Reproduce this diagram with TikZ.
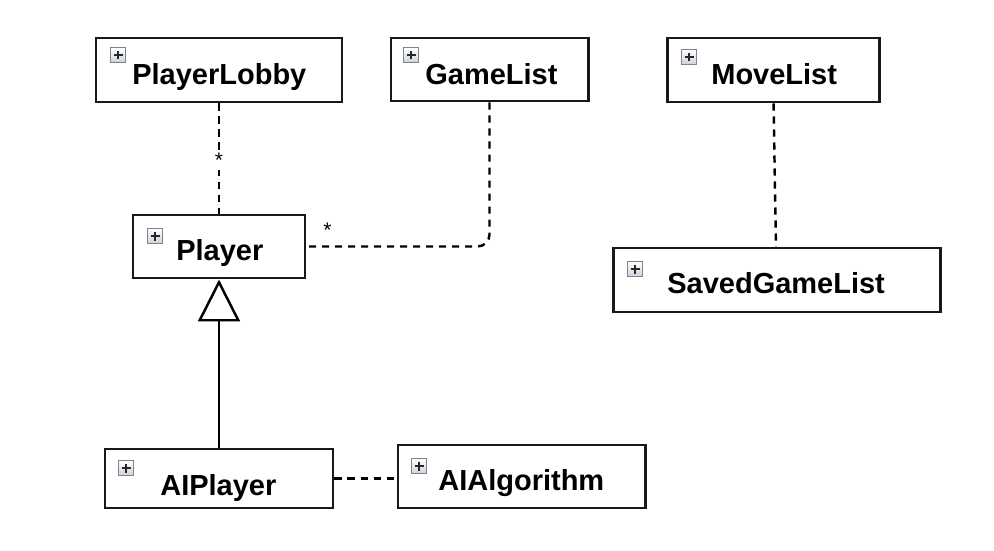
\documentclass[tikz,border=0pt]{standalone}
\usepackage{fontspec}
\setmainfont{Liberation Sans}
\usepackage{tikz}
\usetikzlibrary{arrows.meta,positioning,fit,calc}
\definecolor{iconEdge}{HTML}{7E838C}
\definecolor{iconFill}{HTML}{CDD2DA}
\tikzset{
  clsbox/.style={draw=black!90, line width=1.7pt, inner sep=0pt, fill=white},
  clsname/.style={anchor=base west, inner sep=0pt, font=\fontsize{16.5}{20}\selectfont\bfseries},
  plusicon/.style={draw=iconEdge, line width=.8pt, top color=white, bottom color=iconFill, minimum size=0.3cm, inner sep=0pt,
    path picture={\draw[line width=1.6pt, black!85] ([xshift=-0.9mm]path picture bounding box.center) -- ([xshift=0.9mm]path picture bounding box.center)
      ([yshift=-0.9mm]path picture bounding box.center) -- ([yshift=0.9mm]path picture bounding box.center);}},
  assoc/.style={line width=1.4pt, dash pattern=on 4pt off 3.4pt},
  genline/.style={line width=1.4pt, -{Triangle[open, length=0.84cm, width=0.84cm, fill=white]}},
  mult/.style={font=\fontsize{12}{12}\selectfont, inner sep=1pt, fill=white},
}

\begin{document}
\begin{tikzpicture}[x=0.02cm, y=-0.02cm]
\useasboundingbox (0,0) rectangle (994,551);

% classes
\node[clsbox, fit={(96,38) (342,102)}] (lobby) {};
\node[plusicon] (lobbyicon) at (118,55) {};
\node[clsname] (lobbyname) at (132,84) {PlayerLobby};

\node[clsbox, fit={(391,38) (588,101)}] (gamelist) {};
\node[plusicon] (gamelisticon) at (411,55) {};
\node[clsname] (gamelistname) at (425,84) {GameList};

\node[clsbox, fit={(667,38) (879,102)}] (movelist) {};
\node[plusicon] (movelisticon) at (689,57) {};
\node[clsname] (movelistname) at (711,84) {MoveList};

\node[clsbox, fit={(133,215) (305,278)}] (player) {};
\node[plusicon] (playericon) at (155,236) {};
\node[clsname] (playername) at (176,260) {Player};

\node[clsbox, fit={(613,248) (940,312)}] (savedgl) {};
\node[plusicon] (savedglicon) at (635,269) {};
\node[clsname] (savedglname) at (667,293) {SavedGameList};

\node[clsbox, fit={(105,449) (333,508)}] (aiplayer) {};
\node[plusicon] (aiplayericon) at (126,468) {};
\node[clsname] (aiplayername) at (160,495) {AIPlayer};

\node[clsbox, fit={(398,445) (645,508)}] (aialgo) {};
\node[plusicon] (aialgoicon) at (419,466) {};
\node[clsname] (aialgoname) at (438,490) {AIAlgorithm};

% relations
\draw[assoc] (lobby) -- node[mult, pos=.52] {*} (player);
\draw[assoc, rounded corners=0.24cm] (gamelist.south) |- (player.east)
  node[mult, pos=1, xshift=0.42cm, yshift=0.33cm] {*};
\draw[assoc] (movelist) -- (savedgl);
\draw[assoc] (aiplayer.east) -- (aiplayer.east -| aialgo.west);
\draw[genline] (aiplayer) -- (player);
\end{tikzpicture}
\end{document}
